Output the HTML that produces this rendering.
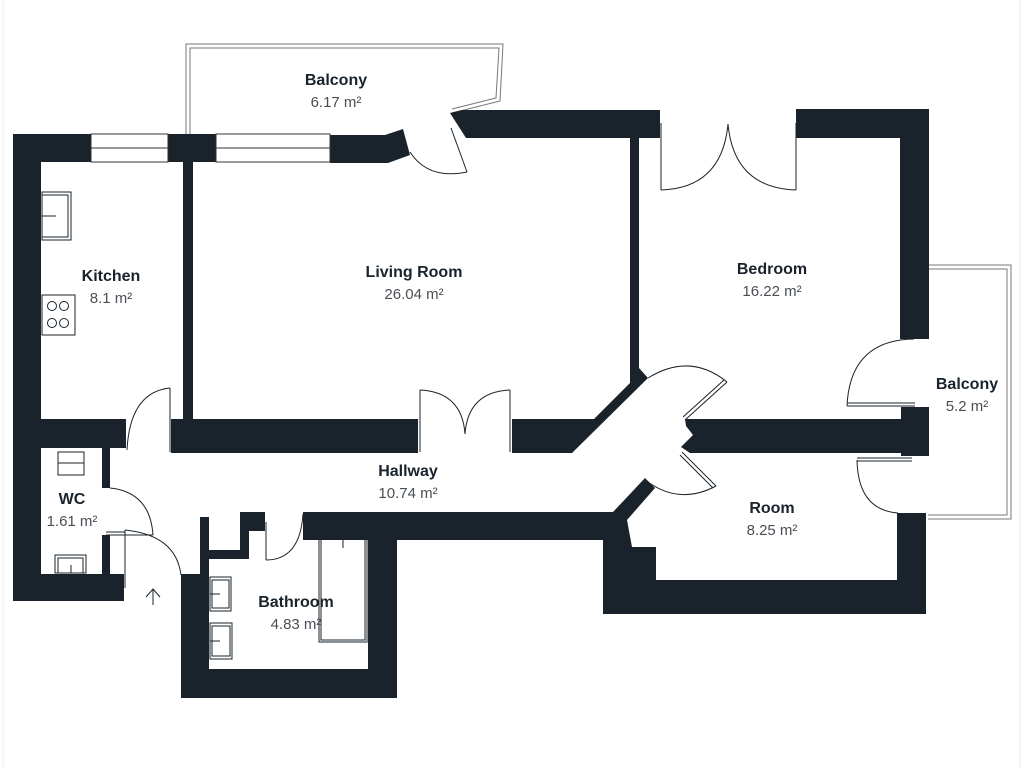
<!DOCTYPE html>
<html><head><meta charset="utf-8"><style>
html,body{margin:0;padding:0;background:#fff;}
svg{display:block;}
.l{font-family:"Liberation Sans",sans-serif;font-weight:bold;font-size:16px;fill:#1a232b;text-anchor:middle;}
.a{font-family:"Liberation Sans",sans-serif;font-size:15px;fill:#4a4f55;text-anchor:middle;}
.t{fill:none;stroke:#1a232b;stroke-width:1;}
.g{fill:none;stroke:#777;stroke-width:1;}
</style></head><body>
<svg width="1024" height="768" viewBox="0 0 1024 768" xmlns="http://www.w3.org/2000/svg">
<rect width="1024" height="768" fill="#fff"/>
<line x1="3" y1="0" x2="3" y2="768" stroke="#eee"/>
<line x1="1020" y1="0" x2="1020" y2="768" stroke="#eee"/>
<!-- balconies -->
<polyline class="g" points="186,134 186,44 503,44 500,101 452,113"/>
<polyline class="g" points="190,134 190,48 499,48 496,98 452,109"/>
<polyline class="g" points="928,265 1011,265 1011,519 928,519"/>
<polyline class="g" points="928,269 1007,269 1007,515 928,515"/>
<g fill="#1a232b">
<!-- kitchen/WC -->
<rect x="13" y="134" width="28" height="467"/>
<rect x="13" y="134" width="78" height="28"/>
<rect x="168" y="134" width="48" height="28"/>
<polygon points="330,135 385,135 403,129 410,155 388,163 330,163"/>
<polygon points="450,113 462,110 660,110 660,138 466,138"/>
<rect x="13" y="419" width="113" height="29"/>
<rect x="102" y="448" width="8" height="40"/>
<rect x="102" y="535" width="8" height="40"/>
<rect x="13" y="574" width="111" height="27"/>
<rect x="183" y="162" width="10" height="257"/>
<rect x="171" y="419" width="247" height="34"/>
<polygon points="630,137 639,137 639,368 648,378 572,453 512,453 512,419 594,419 630,383"/>
<!-- bedroom -->
<rect x="796" y="109" width="132" height="29"/>
<rect x="900" y="109" width="29" height="230"/>
<polygon points="685,419 901,419 901,407 929,407 929,456 901,456 901,453 690,453 681,447 693,435 686,426"/>
<!-- hallway lower / room / bathroom -->
<polygon points="303,512 613,512 645,478 655,488 627,520 632,547 656,547 656,580 897,580 897,513 926,513 926,614 603,614 603,540 397,540 397,698 181,698 181,574 200,574 200,517 209,517 209,669 368,669 368,540 303,540"/>
<polygon points="209,550 240,550 240,512 265,512 265,531 249,531 249,559 209,559"/>
</g>
<!-- windows -->
<rect x="91" y="134" width="77" height="28" fill="#fff" stroke="#333" stroke-width="1"/>
<line x1="91" y1="148" x2="168" y2="148" stroke="#333"/>
<rect x="216" y="134" width="114" height="28" fill="#fff" stroke="#333" stroke-width="1"/>
<line x1="216" y1="148" x2="330" y2="148" stroke="#333"/>
<!-- doors -->
<g class="t">
<path d="M410,152 Q428,180 467,172"/><line x1="451" y1="128" x2="467" y2="172"/>
<line x1="661" y1="123" x2="661" y2="190"/><line x1="796" y1="123" x2="796" y2="190"/>
<path d="M661,190 Q722,188 728,124"/><path d="M796,190 Q734,188 728,124"/>
<line x1="420" y1="390" x2="420" y2="452"/><line x1="510" y1="390" x2="510" y2="452"/>
<path d="M420,390 Q462,392 465,434"/><path d="M510,390 Q468,392 465,434"/>
<line x1="170" y1="388" x2="170" y2="452"/><path d="M170,388 Q130,392 127,450"/>
<line x1="106" y1="535" x2="153" y2="535"/><path d="M110,488 Q150,492 153,535"/>
<line x1="125" y1="530" x2="125" y2="588"/><line x1="106" y1="532" x2="125" y2="532"/><path d="M125,530 Q176,535 181,575"/>
<line x1="266" y1="522" x2="266" y2="560"/><path d="M266,560 Q300,560 303,514"/>
<path d="M648,378 Q690,352 727,382"/><line x1="727" y1="382" x2="685" y2="420"/><line x1="724" y1="380" x2="683" y2="417"/>
<path d="M648,482 Q680,505 716,486"/><line x1="716" y1="486" x2="682" y2="452"/><line x1="713" y1="488" x2="680" y2="455"/>
<path d="M914,339 Q850,340 847,406"/><line x1="847" y1="406" x2="915" y2="406"/><line x1="847" y1="403" x2="915" y2="403"/>
<path d="M857,460 Q858,510 898,513"/><line x1="857" y1="458" x2="912" y2="458"/><line x1="857" y1="461" x2="912" y2="461"/>
<!-- arrow -->
<line x1="153" y1="589" x2="153" y2="605"/><polyline points="146,597 153,589 160,597"/>
</g>
<!-- fixtures -->
<g class="t">
<rect x="42" y="192" width="29" height="48"/><rect x="42" y="195" width="26" height="42"/><line x1="42" y1="216" x2="56" y2="216"/>
<rect x="42" y="295" width="33" height="40"/>
<circle cx="52" cy="306" r="4.5"/><circle cx="64" cy="306" r="4.5"/><circle cx="52" cy="323" r="4.5"/><circle cx="64" cy="323" r="4.5"/>
<rect x="58" y="452" width="26" height="23"/><line x1="58" y1="463" x2="84" y2="463"/>
<rect x="55" y="555" width="31" height="18"/><rect x="58" y="558" width="25" height="15"/><line x1="71" y1="565" x2="71" y2="573"/>
<rect x="210" y="577" width="21" height="34"/><rect x="212" y="580" width="17" height="28"/><line x1="210" y1="594" x2="220" y2="594"/>
<rect x="210" y="623" width="22" height="36"/><rect x="212" y="626" width="18" height="30"/><line x1="210" y1="641" x2="220" y2="641"/>
<rect x="319" y="533" width="48" height="109"/><rect x="321" y="535" width="44" height="105"/><line x1="343" y1="533" x2="343" y2="548"/>
</g>
<!-- labels -->
<text class="l" x="336" y="85">Balcony</text><text class="a" x="336" y="107">6.17 m²</text>
<text class="l" x="111" y="281">Kitchen</text><text class="a" x="111" y="303">8.1 m²</text>
<text class="l" x="414" y="277">Living Room</text><text class="a" x="414" y="299">26.04 m²</text>
<text class="l" x="772" y="274">Bedroom</text><text class="a" x="772" y="296">16.22 m²</text>
<text class="l" x="967" y="389">Balcony</text><text class="a" x="967" y="411">5.2 m²</text>
<text class="l" x="408" y="476">Hallway</text><text class="a" x="408" y="498">10.74 m²</text>
<text class="l" x="72" y="504">WC</text><text class="a" x="72" y="526">1.61 m²</text>
<text class="l" x="296" y="607">Bathroom</text><text class="a" x="296" y="629">4.83 m²</text>
<text class="l" x="772" y="513">Room</text><text class="a" x="772" y="535">8.25 m²</text>
</svg>
</body></html>
